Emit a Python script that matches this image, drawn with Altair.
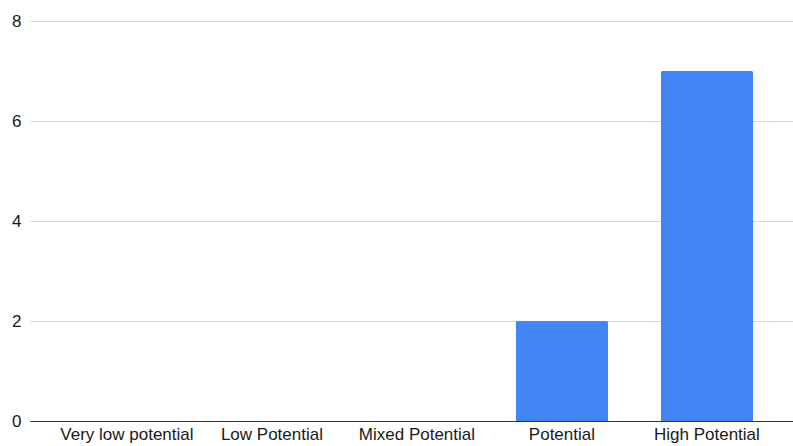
import altair as alt
import pandas as pd

categories = ["Very low potential", "Low Potential", "Mixed Potential", "Potential", "High Potential"]
values = [0, 0, 0, 2, 7]

df = pd.DataFrame({"category": categories, "value": values})

FONT = "Liberation Sans"

chart = alt.Chart(df).mark_bar(
    color="#4285F4", cornerRadiusTopLeft=2, cornerRadiusTopRight=2
).encode(
    x=alt.X(
        "category:N",
        sort=categories,
        title=None,
        scale=alt.Scale(paddingInner=0.362, paddingOuter=0.312, align=0.56),
        axis=alt.Axis(
            labelAngle=0, ticks=False, domain=True, domainColor="#333333",
            domainWidth=1, labelFont=FONT, labelFontSize=17, labelColor="#1a1a1a",
            labelPadding=5, grid=False, labelLimit=300,
        ),
    ),
    y=alt.Y(
        "value:Q",
        title=None,
        scale=alt.Scale(domain=[0, 8]),
        axis=alt.Axis(
            values=[0, 2, 4, 6, 8], ticks=False, domain=False, labelFont=FONT,
            labelFontSize=17, labelColor="#1a1a1a", labelPadding=9,
            gridColor="#d9d9d9", gridWidth=1,
        ),
    ),
).properties(
    width=763,
    height=400,
    autosize=alt.AutoSizeParams(type="none"),
    padding={"left": 30, "top": 21, "right": 0, "bottom": 25},
    background="white",
).configure_view(stroke=None)

chart.save("out.html", embed_options={"renderer": "svg", "actions": False})
